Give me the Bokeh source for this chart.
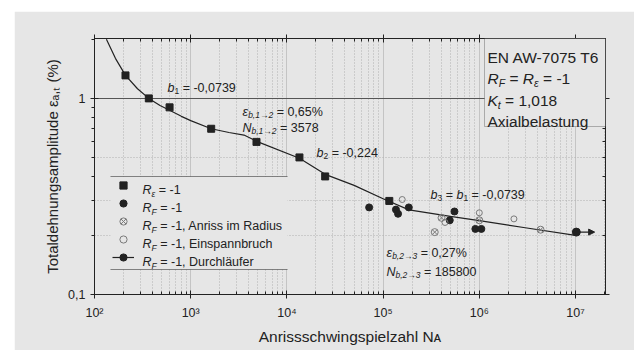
import math
from bokeh.plotting import figure
from bokeh.models import (Range1d, FixedTicker, LogAxis, Label, BoxAnnotation, Legend,
                          LegendItem, Arrow, NormalHead, CustomJSTickFormatter)
from bokeh.embed import file_html
from bokeh.resources import INLINE

# ---------------- data ----------------
# R_eps = -1 (strain controlled), squares
sq_n = [210, 367, 603, 1633, 4830, 13500, 25000, 116000]
sq_e = [1.31, 1.00, 0.90, 0.70, 0.60, 0.50, 0.40, 0.30]
# R_F = -1 (force controlled), filled circles
ci_n = [71600, 136000, 143000, 185000, 493000, 552000, 910000, 1050000]
ci_e = [0.278, 0.271, 0.258, 0.278, 0.239, 0.265, 0.216, 0.216]
# R_F = -1, Anriss im Radius
rad_n = [344000, 405000, 1000000, 4330000]
rad_e = [0.208, 0.246, 0.239, 0.214]
# R_F = -1, Einspannbruch
ein_n = [158000, 440000, 1000000, 2290000]
ein_e = [0.305, 0.233, 0.261, 0.243]
# R_F = -1, Durchlaeufer (run-out)
dl_n = [10200000]
dl_e = [0.208]
# fitted total strain curve
fit_n = [133, 165, 210, 280, 367, 480, 603, 800, 1000, 1633, 2500, 3578, 5000, 13500,
         25000, 50000, 100000, 185800, 500000, 1000000, 3000000, 10000000]
fit_e = [2.00, 1.60, 1.31, 1.12, 1.00, 0.92, 0.87, 0.81, 0.77, 0.70, 0.67, 0.65, 0.60, 0.495,
         0.41, 0.36, 0.308, 0.27, 0.25, 0.238, 0.219, 0.20]

x_major = [1e2, 1e3, 1e4, 1e5, 1e6, 1e7]
x_labels = {100: "10²", 1000: "10³", 10000: "10⁴", 100000: "10⁵", 1000000: "10⁶", 10000000: "10⁷"}
y_major = [0.1, 1]
y_labels = {0.1: "0,1", 1: "1"}

# ---------------- style ----------------
BG = "#e6e6e6"
INK = "#222222"
FONT = "Liberation Sans"
X0, X1 = 1e2, 2.05e7
Y0, Y1 = 0.1, 2.02

p = figure(width=620, height=339, x_axis_type="log", y_axis_type="log",
           x_range=Range1d(X0, X1), y_range=Range1d(Y0, Y1),
           output_backend="svg", toolbar_location=None,
           min_border_left=80, min_border_right=29, min_border_top=27, min_border_bottom=56,
           background_fill_color=BG, border_fill_color=BG, margin=(11, 0, 0, 14))
p.outline_line_color = INK
p.outline_line_width = 1

# frame geometry (page px) used for placing annotation texts
FL, FT, FW, FH = 94, 38, 511, 256
LX0, LX1 = math.log10(X0), math.log10(X1)
LY0, LY1 = math.log10(Y0), math.log10(Y1)


def fx(px):
    return 10 ** (LX0 + (px - FL) / FW * (LX1 - LX0))


def fy(py):
    return 10 ** (LY0 + (FT + FH - py) / FH * (LY1 - LY0))


x_minor = [k * m for m in x_major[:-1] for k in range(2, 10)] + [2e7]
y_minor = [0.2, 0.3, 0.4, 0.5, 0.6, 0.7, 0.8, 0.9, 2.0]
xt = FixedTicker(ticks=x_major, minor_ticks=x_minor)
yt = FixedTicker(ticks=y_major, minor_ticks=y_minor)


def style_axis(ax, ticker):
    ax.ticker = ticker
    ax.axis_line_color = INK
    ax.major_tick_line_color = INK
    ax.minor_tick_line_color = INK
    ax.major_tick_in = 4
    ax.major_tick_out = 4
    ax.minor_tick_in = 3
    ax.minor_tick_out = 0
    ax.major_label_text_font = FONT
    ax.major_label_text_font_size = "12.5px"
    ax.major_label_text_color = INK
    ax.axis_label_text_font = FONT
    ax.axis_label_text_font_style = "normal"
    ax.axis_label_text_color = INK


style_axis(p.xaxis[0], xt)
style_axis(p.yaxis[0], yt)
p.xaxis[0].major_label_overrides = x_labels
p.yaxis[0].major_label_overrides = y_labels
p.xaxis[0].major_label_standoff = 7
p.xaxis[0].axis_label = "Anrissschwingspielzahl Nᴀ"
p.xaxis[0].axis_label_text_font_size = "15.5px"
p.xaxis[0].axis_label_standoff = 5
p.yaxis[0].axis_label = "Totaldehnungsamplitude εₐ,ₜ (%)"
p.yaxis[0].axis_label_text_font_size = "15px"
p.yaxis[0].axis_label_standoff = 4
p.yaxis[0].minor_tick_in = 0
p.yaxis[0].minor_tick_out = 3

blank = CustomJSTickFormatter(code="return ''")
top_ax = LogAxis(formatter=blank)
right_ax = LogAxis(formatter=blank)
style_axis(top_ax, xt)
style_axis(right_ax, yt)
p.add_layout(top_ax, "above")
p.add_layout(right_ax, "right")

# grids
p.xgrid.ticker = xt
p.xgrid.grid_line_color = "#c4c4c4"
p.xgrid.minor_grid_line_color = "#b0b0b0"
p.xgrid.minor_grid_line_dash = "1 2"
p.ygrid.ticker = FixedTicker(ticks=[1], minor_ticks=[0.2, 0.3, 0.5])
p.ygrid.grid_line_color = "#555555"
p.ygrid.minor_grid_line_color = "#b0b0b0"
p.ygrid.minor_grid_line_dash = "1 2"

# ---------------- glyphs ----------------
p.line(fit_n, fit_e, line_color=INK, line_width=1.2)
r_sq = p.scatter(sq_n, sq_e, marker="square", size=7, fill_color=INK, line_color=INK)
r_ci = p.scatter(ci_n, ci_e, marker="circle", size=7, fill_color=INK, line_color=INK)
r_rad = p.scatter(rad_n, rad_e, marker="circle_x", size=7, fill_alpha=0, line_color="#7a7a7a")
r_ein = p.scatter(ein_n, ein_e, marker="circle", size=6, fill_alpha=0, line_color="#7a7a7a")
r_seg = p.segment(x0=dl_n, y0=dl_e, x1=[n * 1.5 for n in dl_n], y1=dl_e,
                  line_color=INK, line_width=1.2)
r_dl = p.scatter(dl_n, dl_e, marker="circle", size=8, fill_color=INK, line_color=INK)
p.add_layout(Arrow(end=NormalHead(size=6, fill_color=INK, line_color=INK),
                   x_start=dl_n[0] * 1.3, y_start=dl_e[0], x_end=dl_n[0] * 1.55, y_end=dl_e[0],
                   line_alpha=0))

# ---------------- rich text helper ----------------
CW = {' ': .278, '=': .584, '-': .333, ',': .278, '.': .278, '%': .889, '→': 1.0, 'ε': .45,
      'R': .722, 'F': .611, 'N': .722, 'K': .667, 'A': .667, 'E': .667, 'W': .944, 'T': .611,
      'b': .556, 't': .278, 'i': .222, 'l': .222, 'm': .833, 'r': .333, 's': .5, 'c': .5,
      'z': .5, 'k': .5, 'f': .278, 'j': .222, 'w': .722, 'x': .5, 'y': .5, 'v': .5,
      '(': .333, ')': .333, 'ä': .556}


def tw(s):
    return sum(CW.get(c, .556) for c in s)


def rich(px, py, parts, size):
    off = 0.0
    for txt, kind in parts:
        sub = kind in ("s", "si")
        fs = size * 0.68 if sub else size
        lead = len(txt) - len(txt.lstrip(" "))
        off += lead * CW[' '] * fs
        t = txt.lstrip(" ")
        p.add_layout(Label(x=fx(px), y=fy(py), x_offset=off,
                           y_offset=-size * 0.28 if sub else 0, text=t,
                           text_font=FONT, text_font_size=f"{fs:.1f}px",
                           text_font_style="italic" if kind in ("i", "si") else "normal",
                           text_color=INK, text_baseline="alphabetic", text_align="left"))
        off += tw(t) * fs


# info box (top right)
p.add_layout(BoxAnnotation(left=fx(484), right=X1, top=Y1, bottom=fy(126),
                           fill_color=BG, fill_alpha=1, line_color=INK, line_width=1))
rich(487, 57, [("EN AW-7075 T6", "n")], 15.5)
rich(487, 78, [("R", "i"), ("F", "si"), (" = ", "n"), ("R", "i"), ("ε", "si"), (" = -1", "n")], 15.5)
rich(487, 100, [("K", "i"), ("t", "si"), (" = 1,018", "n")], 15.5)
rich(487, 121, [("Axialbelastung", "n")], 15.5)

# annotations in the plot
rich(167, 87, [("b", "i"), ("1", "s"), (" = -0,0739", "n")], 12.5)
rich(242, 111, [("ε", "i"), ("b,1→2", "si"), (" = 0,65%", "n")], 12.5)
rich(242, 127, [("N", "i"), ("b,1→2", "si"), (" = 3578", "n")], 12.5)
rich(316, 152, [("b", "i"), ("2", "s"), (" = -0,224", "n")], 12.5)
rich(430, 194, [("b", "i"), ("3", "s"), (" = ", "n"), ("b", "i"), ("1", "s"), (" = -0,0739", "n")], 12.5)
rich(386, 252, [("ε", "i"), ("b,2→3", "si"), (" = 0,27%", "n")], 12.5)
rich(386, 271, [("N", "i"), ("b,2→3", "si"), (" = 185800", "n")], 12.5)

# ---------------- legend ----------------
p.add_layout(BoxAnnotation(left=fx(110), right=fx(287), top=fy(176), bottom=fy(269),
                           fill_color=BG, fill_alpha=1, line_alpha=0))
for yy in (176, 269):
    p.add_layout(BoxAnnotation(left=fx(110), right=fx(287), top=fy(yy), bottom=fy(yy),
                               fill_alpha=0, line_color=INK, line_width=1))
legend = Legend(items=[LegendItem(label=" ", renderers=[r_sq]),
                       LegendItem(label=" ", renderers=[r_ci]),
                       LegendItem(label=" ", renderers=[r_rad]),
                       LegendItem(label=" ", renderers=[r_ein]),
                       LegendItem(label=" ", renderers=[r_seg, r_dl])],
                location=(18, 28), padding=0, spacing=0, margin=0,
                glyph_height=18, glyph_width=22, label_height=18, label_standoff=8,
                label_text_font_size="2px", background_fill_alpha=0, border_line_alpha=0)
p.add_layout(legend)
leg_parts = [
    [("R", "i"), ("ε", "si"), (" = -1", "n")],
    [("R", "i"), ("F", "si"), (" = -1", "n")],
    [("R", "i"), ("F", "si"), (" = -1, Anriss im Radius", "n")],
    [("R", "i"), ("F", "si"), (" = -1, Einspannbruch", "n")],
    [("R", "i"), ("F", "si"), (" = -1, Durchläufer", "n")],
]
for i, parts in enumerate(leg_parts):
    rich(142, 189.5 + 18 * i, parts, 12.5)

open("out.html", "w").write(file_html(p, INLINE))
